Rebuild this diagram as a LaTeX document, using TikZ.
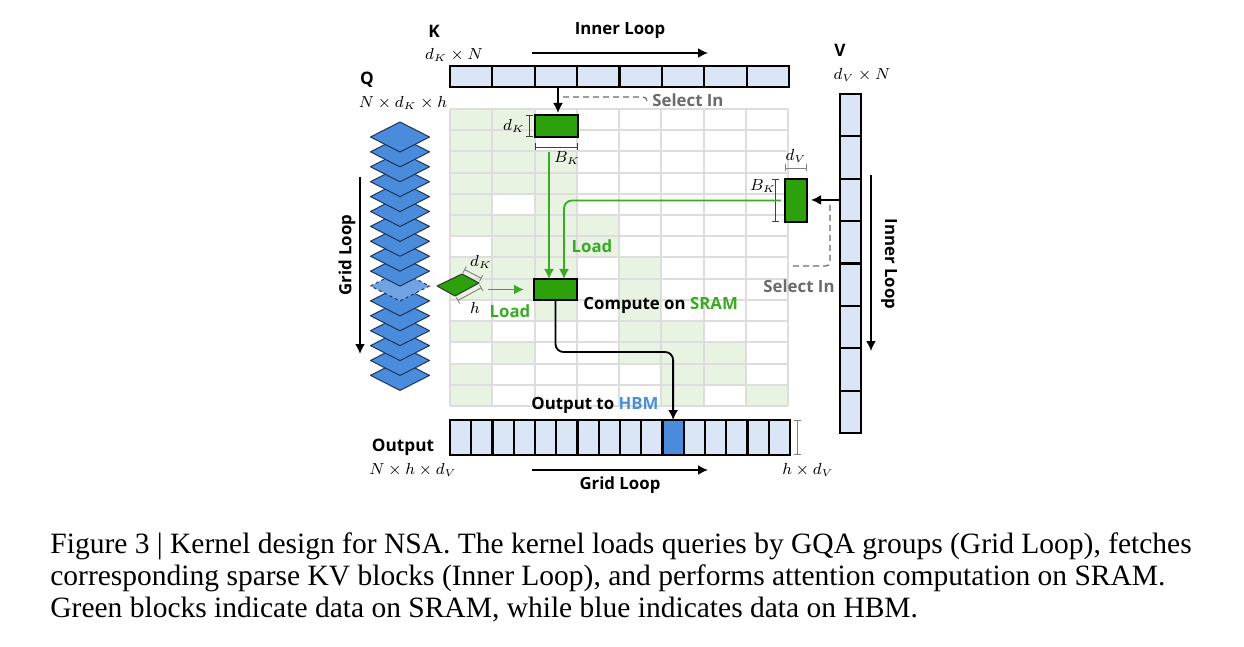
\documentclass[tikz,border=0pt]{standalone}
\usepackage{fontspec}
\setsansfont{Open Sans}
\newfontfamily\capfont{Liberation Serif}
\usetikzlibrary{arrows.meta}
\definecolor{kvblue}{HTML}{DAE6F6}
\definecolor{qblue}{HTML}{4A8BDB}
\definecolor{qdash}{HTML}{6FA3E3}
\definecolor{qline}{HTML}{1E3557}
\definecolor{sgreen}{HTML}{2CA10C}
\definecolor{lgreen}{HTML}{3AAA24}
\definecolor{cellgreen}{HTML}{E8F3E2}
\definecolor{gridgray}{HTML}{DDDDDD}
\definecolor{selgray}{HTML}{6B6B6B}
\definecolor{hbmblue}{HTML}{4A90D9}
\begin{document}
\begin{tikzpicture}[x=0.5pt,y=-0.5pt,
  lbl/.style={font=\sffamily\bfseries\fontsize{8.4}{10}\selectfont, inner sep=0pt},
  big/.style={font=\sffamily\bfseries\fontsize{8.6}{10}\selectfont, inner sep=0pt},
  mth/.style={font=\fontsize{7.8}{9}\selectfont, inner sep=0pt},
  kvcell/.style={draw=black, line width=1.1pt, fill=kvblue, outer sep=0pt, inner sep=0pt},
  blk/.style={draw=black, line width=0.9pt, fill=sgreen, outer sep=0pt, inner sep=0pt},
  dimk/.style={draw=black!75, line width=0.45pt, {Bar[width=3.5pt]}-{Bar[width=3.5pt]}},
  dimg/.style={draw=gray, line width=0.45pt, {Bar[width=3.5pt]}-{Bar[width=3.5pt]}},
  arr/.style={line width=0.9pt, -{Latex[length=5pt,width=5pt]}},
  garr/.style={draw=lgreen, line width=0.9pt, -{Latex[length=5pt,width=5pt]}},
  seldash/.style={draw=selgray, line width=0.6pt, dash pattern=on 3pt off 2pt},
  gridline/.style={draw=gridgray, line width=1pt},
  qdia/.style={fill=qblue, draw=qline, line width=0.5pt, line join=round},
  qdiadash/.style={fill=qdash, draw=qline, line width=0.5pt, dash pattern=on 1.5pt off 1.5pt},
]
\path[use as bounding box, fill=white] (0,0) rectangle (1244,647);

% ---------------- grid ----------------
\foreach \c/\r in {0/0,0/1,0/2,0/3,0/4,0/5,0/7,0/8,0/10,0/12,0/13,
                   1/0,1/1,1/2,1/3,1/5,1/6,1/7,1/8,1/11,
                   2/2,2/3,2/4,2/5,2/6,2/7,2/8,2/9,
                   3/5,3/6,
                   4/7,4/8,4/9,4/10,4/11,
                   5/10,5/11,5/12,5/13,
                   6/11,6/12,
                   7/13}
  \fill[cellgreen] ({450+42.25*\c},{109+21.21*\r}) rectangle ++(42.25,21.21);
\foreach \i in {0,...,8} \draw[gridline] ({450+42.25*\i},109) -- ++(0,297);
\foreach \j in {0,...,14} \draw[gridline] (450,{109+21.21*\j}) -- ++(338,0);

% ---------------- K bar ----------------
\foreach \i in {0,...,7}
  \node[kvcell, minimum width=21.19pt, minimum height=10.5pt, anchor=north west] (k\i) at ({450+42.375*\i},66) {};
\node[big] (Klab) at (434,31) {K};
\node[mth] (Kdim) at (454,55) {$d_K\times N$};
\node[lbl] (innerK) at (620,31) {Inner Loop};
\coordinate (ilA) at (532,53);
\coordinate (ilB) at (708,53);
\draw[arr] (ilA) -- (ilB);

% ---------------- V bar ----------------
\foreach \i in {0,...,7}
  \node[kvcell, minimum width=10.5pt, minimum height=21.19pt, anchor=north west] (v\i) at (840,{94+42.375*\i}) {};
\node[big] (Vlab) at (840,50) {V};
\node[mth] (Vdim) at (862,75) {$d_V\times N$};
\node[lbl, rotate=-90] (innerV) at (889,264) {Inner Loop};
\coordinate (ivA) at (871,175);
\coordinate (ivB) at (871,351);
\draw[arr] (ivA) -- (ivB);

% ---------------- Q stack ----------------
\foreach \k in {16,15,...,0} {
  \pgfmathsetmacro\yy{122+14.9*\k}
  \ifnum\k=10
    \draw[qdiadash] (370.5,\yy+15) -- (400,\yy) -- (429.5,\yy+15) -- (400,\yy+30) -- cycle;
  \else
    \draw[qdia] (370.5,\yy+15) -- (400,\yy) -- (429.5,\yy+15) -- (400,\yy+30) -- cycle;
  \fi
}
\node[big] (Qlab) at (367,80) {Q};
\node[mth] (Qdim) at (403,103) {$N\times d_K\times h$};
\node[lbl, rotate=90] (gridQ) at (347,255) {Grid Loop};
\coordinate (glA) at (360,177);
\coordinate (glB) at (360,354);
\draw[arr] (glA) -- (glB);

% ---------------- blocks ----------------
\node[blk, minimum width=21.5pt, minimum height=11pt] (kblk) at (556.5,126) {};
\node[blk, minimum width=11pt, minimum height=21.5pt] (vblk) at (796,200.5) {};
\node[blk, minimum width=21.5pt, minimum height=10.5pt] (comp) at (555.5,289.5) {};

% K block dims
\coordinate (kdA) at (529,115); \coordinate (kdB) at (529,137);
\draw[dimk] (kdA) -- (kdB);
\node[mth] (kdl) at (514,126) {$d_K$};
\coordinate (kbA) at (535,147); \coordinate (kbB) at (578,147);
\draw[dimk] (kbA) -- (kbB);
\node[mth] (kbl) at (567,158) {$B_K$};

% V block dims
\coordinate (vdA) at (785,168); \coordinate (vdB) at (807,168);
\draw[dimg] (vdA) -- (vdB);
\node[mth] (vdl) at (796,156) {$d_V$};
\coordinate (vbA) at (775,179); \coordinate (vbB) at (775,222);
\draw[dimk] (vbA) -- (vbB);
\node[mth] (vbl) at (763,186) {$B_K$};

% select arrows
\draw[arr, shorten >=1pt] (k2.south -| 558,0) -- (558,115);
\coordinate (kselA) at (563,97);
\coordinate (kselB) at (647,102);
\draw[seldash, rounded corners=2pt] (kselA) -| (kselB);
\node[lbl, text=selgray, anchor=west] (selK) at (652,100) {Select In};

\draw[arr, shorten >=2pt] (v2.west) -- (v2.west -| vblk.east);
\coordinate (vselA) at (830,205);
\coordinate (vselB) at (790,266);
\draw[seldash, rounded corners=2pt] (vselA) |- (vselB);
\node[lbl, text=selgray] (selV) at (799,286) {Select In};

% green loads
\draw[garr] ([xshift=-3.75pt,yshift=-7.5pt]kblk.south) -- ([xshift=-3.25pt]comp.north);
\draw[garr, rounded corners=4pt] ([xshift=-2pt]vblk.west) -| ([xshift=4.25pt]comp.north);
\node[lbl, text=lgreen] (load1) at (592,246) {Load};

% Q slice diamond
\draw[fill=sgreen, draw=black!80, line width=0.5pt, line join=round] (437,286) -- (462,274) -- (479,283) -- (455,296) -- cycle;
\node (qslice) at (458,285) {};
\coordinate (qdA) at (464.3,269.4); \coordinate (qdB) at (481.5,278.4);
\draw[dimg] (qdA) -- (qdB);
\node[mth] (qdl) at (481,262) {$d_K$};
\coordinate (qhA) at (481.6,287.6); \coordinate (qhB) at (457.6,300.6);
\draw[dimg] (qhA) -- (qhB);
\node[mth] (qhl) at (475,308) {$h$};
\draw[garr] ([xshift=15pt]qslice.center |- comp.west) -- ([xshift=-5pt]comp.west);
\node[lbl, text=lgreen] (load2) at (510,311) {Load};

\node[lbl, anchor=west] (compl) at (583,305) {Compute on \textcolor{lgreen}{SRAM}};

% ---------------- Output bar ----------------
\foreach \i in {0,...,15}
  \node[kvcell, minimum width=10.625pt, minimum height=17.5pt, anchor=north west] (o\i) at ({450+21.25*\i},420) {};
\node[kvcell, fill=qblue, minimum width=10.625pt, minimum height=17.5pt, anchor=north west] (ohl) at ({450+21.25*10},420) {};
\node[lbl] (outlbl) at (595,405) {Output to \textcolor{hbmblue}{HBM}};
\coordinate (bend) at (555.5,352);
\draw[arr, rounded corners=4pt] (comp.south) -- (bend) -| (ohl.north);

\node[big] (Olab) at (403,447) {Output};
\node[mth] (Odim) at (413,470) {$N\times h\times d_V$};
\coordinate (odA) at (797,420); \coordinate (odB) at (797,455);
\draw[dimg] (odA) -- (odB);
\node[mth] (odl) at (808,470) {$h\times d_V$};
\coordinate (goA) at (532,470);
\coordinate (goB) at (708,470);
\draw[arr] (goA) -- (goB);
\node[lbl] (gridO) at (620,485) {Grid Loop};

% ---------------- caption ----------------
\begin{scope}[every node/.style={anchor=base west, inner sep=0pt, font=\capfont\fontsize{14.75}{16}\selectfont}]
\node (cap1) at (50,553) {Figure 3 | Kernel design for NSA. The kernel loads queries by GQA groups (Grid Loop), fetches};
\node (cap2) at (50,585) {corresponding sparse KV blocks (Inner Loop), and performs attention computation on SRAM.};
\node (cap3) at (50,617) {Green blocks indicate data on SRAM, while blue indicates data on HBM.};
\end{scope}
\end{tikzpicture}
\end{document}
